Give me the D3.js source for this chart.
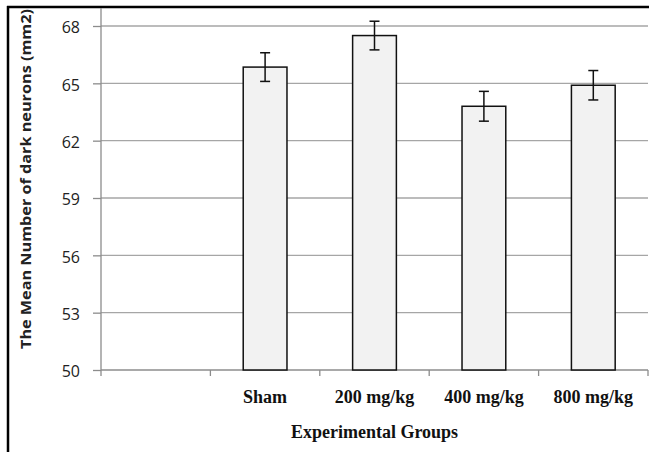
<!DOCTYPE html>
<html lang="en">
<head>
  <meta charset="UTF-8" />
  <title>Mean Number of dark neurons</title>
  <style>
    body { margin: 0; background: #fff; }
    svg { display: block; }
    .grid line { stroke: #a6a6a6; stroke-width: 1.3px; }
    .axis path, .axis line { stroke: #8c8c8c; stroke-width: 1.3px; }
    .ytick text { font-family: "Open Sans", sans-serif; font-size: 16px; fill: #222; }
    .xtick text { font-family: "Liberation Serif", serif; font-weight: bold; font-size: 18px; fill: #111; }
  </style>
  <script src="https://d3js.org/d3.v7.min.js"></script>
</head>
<body>
  <svg id="chart" width="649" height="452"></svg>
  <script>
    // data
    const groups = ["", "Sham", "200 mg/kg", "400 mg/kg", "800 mg/kg"];
    const means  = [null, 65.85, 67.5, 63.8, 64.9];
    const errs   = [null, 0.75, 0.75, 0.78, 0.77];
    const yTicks = [50, 53, 56, 59, 62, 65, 68];

    const svg = d3.select("#chart");
    const margin = { top: 26, right: 1, bottom: 82, left: 101 };
    const W = 649, H = 452;
    const innerW = W - margin.left - margin.right;
    const innerH = H - margin.top - margin.bottom;

    // frame lines (left + top)
    svg.append("line").attr("x1", 8).attr("x2", 8).attr("y1", 6).attr("y2", H)
      .attr("stroke", "#000").attr("stroke-width", 2.5);
    svg.append("line").attr("x1", 7).attr("x2", W).attr("y1", 7).attr("y2", 7)
      .attr("stroke", "#000").attr("stroke-width", 2.5);

    const g = svg.append("g").attr("transform", `translate(${margin.left},${margin.top})`);

    const x = d3.scaleBand().domain(groups).range([0, innerW]).paddingInner(0).paddingOuter(0);
    const y = d3.scaleLinear().domain([50, 68]).range([innerH, 0]);

    // gridlines
    g.append("g").attr("class", "grid")
      .selectAll("line").data(yTicks.filter(d => d > 50)).enter().append("line")
      .attr("x1", 0).attr("x2", innerW)
      .attr("y1", d => y(d)).attr("y2", d => y(d));

    // y axis (plot area runs up to the frame, so the line does too)
    const yAxis = g.append("g").attr("class", "axis ytick")
      .call(d3.axisLeft(y).tickValues(yTicks).tickSize(8).tickPadding(13).tickSizeOuter(0));
    yAxis.select(".domain").remove();
    yAxis.append("line").attr("x1", 0).attr("x2", 0)
      .attr("y1", 8 - margin.top).attr("y2", innerH);
    yAxis.selectAll("text").attr("dy", "0.42em");

    // x axis: ticks at band boundaries
    const xAxisG = g.append("g").attr("class", "axis").attr("transform", `translate(0,${innerH})`);
    xAxisG.append("line").attr("x1", 0).attr("x2", innerW).attr("y1", 0).attr("y2", 0);
    const bounds = groups.map(d => x(d)).concat([innerW]);
    xAxisG.selectAll("line.tk").data(bounds).enter().append("line").attr("class", "tk")
      .attr("x1", d => d).attr("x2", d => d).attr("y1", 0).attr("y2", 6);
    xAxisG.append("g").attr("class", "xtick").selectAll("text").data(groups).enter().append("text")
      .attr("x", d => x(d) + x.bandwidth() / 2)
      .attr("y", 33)
      .attr("text-anchor", "middle")
      .text(d => d);

    // bars
    const data = groups.map((d, i) => ({ g: d, v: means[i], e: errs[i] })).filter(d => d.v != null);
    const barW = x.bandwidth() * 0.4;
    g.selectAll("rect.bar").data(data).enter().append("rect")
      .attr("class", "bar")
      .attr("x", d => x(d.g) + (x.bandwidth() - barW) / 2)
      .attr("y", d => y(d.v))
      .attr("width", barW)
      .attr("height", d => y(50) - y(d.v))
      .attr("fill", "#f2f2f2")
      .attr("stroke", "#111")
      .attr("stroke-width", 1.5);

    // error bars
    const eb = g.selectAll("g.err").data(data).enter().append("g").attr("class", "err")
      .attr("stroke", "#111").attr("stroke-width", 1.5);
    const cx = d => x(d.g) + x.bandwidth() / 2;
    eb.append("line").attr("x1", cx).attr("x2", cx)
      .attr("y1", d => y(d.v + d.e)).attr("y2", d => y(d.v - d.e));
    eb.append("line").attr("x1", d => cx(d) - 5).attr("x2", d => cx(d) + 5)
      .attr("y1", d => y(d.v + d.e)).attr("y2", d => y(d.v + d.e));
    eb.append("line").attr("x1", d => cx(d) - 5).attr("x2", d => cx(d) + 5)
      .attr("y1", d => y(d.v - d.e)).attr("y2", d => y(d.v - d.e));

    // axis titles
    svg.append("text")
      .attr("transform", "translate(31,179) rotate(-90)")
      .attr("text-anchor", "middle")
      .attr("font-family", "'Open Sans', sans-serif")
      .attr("font-weight", "bold")
      .attr("font-size", 15)
      .attr("fill", "#222")
      .attr("textLength", 340)
      .attr("lengthAdjust", "spacingAndGlyphs")
      .text("The Mean Number of dark neurons (mm2)");

    svg.append("text")
      .attr("x", margin.left + innerW / 2)
      .attr("y", 438)
      .attr("text-anchor", "middle")
      .attr("font-family", "'Liberation Serif', serif")
      .attr("font-weight", "bold")
      .attr("font-size", 18)
      .attr("fill", "#111")
      .text("Experimental Groups");
  </script>
</body>
</html>
